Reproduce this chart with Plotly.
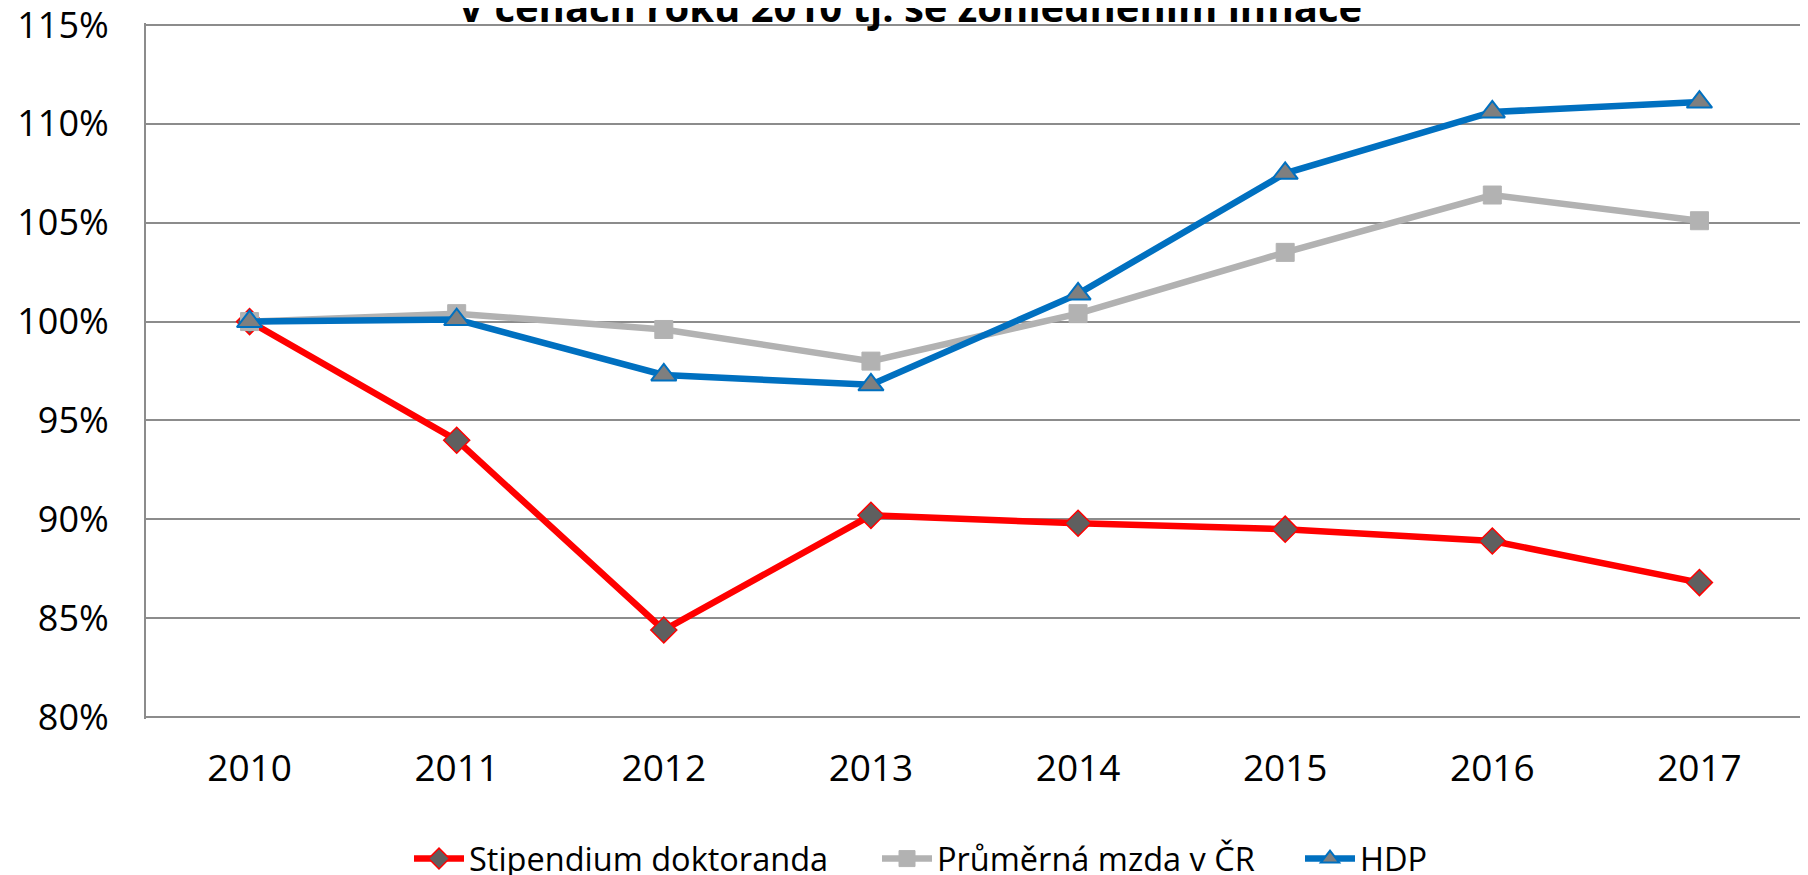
import plotly.graph_objects as go

#%% data
years = ['2010', '2011', '2012', '2013', '2014', '2015', '2016', '2017']
stipendium = [1.000, 0.940, 0.844, 0.902, 0.898, 0.895, 0.889, 0.868]
mzda = [1.000, 1.004, 0.996, 0.980, 1.004, 1.035, 1.064, 1.051]
hdp = [1.000, 1.001, 0.973, 0.968, 1.014, 1.075, 1.106, 1.111]
y_ticks = [0.80, 0.85, 0.90, 0.95, 1.00, 1.05, 1.10, 1.15]
title_text = 'V cenách roku 2010 tj. se zohledněním inflace'

#%% figure (page body adds 8px margin, so the figure is 8px smaller)
fig = go.Figure(data=[
    go.Scatter(x=years, y=stipendium, name='Stipendium doktoranda', mode='lines+markers',
               line=dict(color='#FF0000', width=6.5), legend='legend',
               marker=dict(symbol='diamond', size=20, color='#5F5F5F',
                           line=dict(color='#FF0000', width=1.5))),
    go.Scatter(x=years, y=mzda, name='Průměrná mzda v ČR', mode='lines+markers',
               line=dict(color='#B2B2B2', width=6.5), legend='legend2',
               marker=dict(symbol='square', size=18, color='#B2B2B2',
                           line=dict(color='#B2B2B2', width=1))),
    go.Scatter(x=years, y=hdp, name='HDP', mode='lines+markers',
               line=dict(color='#0070C0', width=6.5), legend='legend3',
               marker=dict(symbol='triangle-up', size=22, color='#7F7F7F',
                           line=dict(color='#0070C0', width=2))),
])

leg = dict(orientation='h', xref='container', yref='container', y=0.0185, yanchor='middle',
           xanchor='left', font=dict(size=32.5), itemwidth=50, bgcolor='rgba(0,0,0,0)')
fig.update_layout(
    width=1800, height=867,
    margin=dict(l=138, r=5, t=15, b=156, autoexpand=False),
    paper_bgcolor='white', plot_bgcolor='white',
    font=dict(family='Open Sans', size=37, color='black'),
    showlegend=True,
    legend=dict(leg, x=401 / 1800),
    legend2=dict(leg, x=869 / 1800),
    legend3=dict(leg, x=1292 / 1800),
)
fig.update_xaxes(type='category', showgrid=False, zeroline=False, showline=False,
                 ticks='', ticklabelstandoff=24, range=[-0.5, 7.5])
# range padded by ~2px so the 80% and 115% gridlines are not clipped at the edges
fig.update_yaxes(range=[0.799, 1.151], tickvals=y_ticks, tickformat='.0%',
                 showgrid=True, gridcolor='#8C8C8C', gridwidth=2,
                 showline=True, linecolor='#8C8C8C', linewidth=2,
                 zeroline=False, ticks='', ticklabelstandoff=28, tickfont=dict(size=36),
                 ticklabeloverflow='allow')

fig.add_annotation(text='<b>' + title_text + '</b>', xref='paper', yref='paper',
                   x=0.461, y=1, xanchor='center', yanchor='bottom', yshift=-13,
                   showarrow=False, font=dict(family='Open Sans', size=40, color='black'))

fig.write_html('out.html')
